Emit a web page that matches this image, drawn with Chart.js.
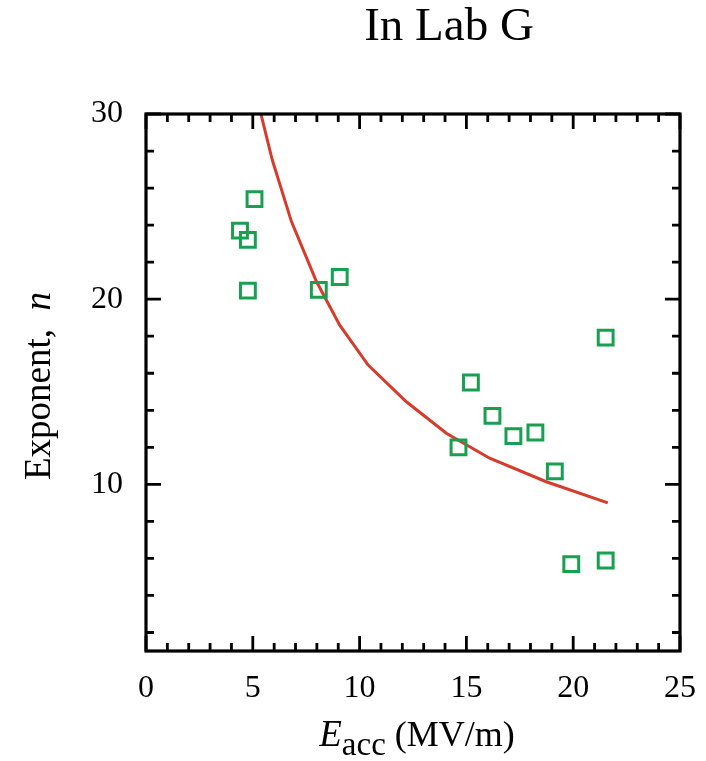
<!DOCTYPE html>
<html>
<head>
<meta charset="utf-8">
<script src="https://cdn.jsdelivr.net/npm/chart.js@4"></script>
<style>
  html, body { margin: 0; padding: 0; background: #fff; }
</style>
</head>
<body>
<canvas id="chart" width="706" height="761"></canvas>
<script>
// measured points (E_acc in MV/m, exponent n)
const measuredE = [4.40, 5.08, 4.77, 4.77, 8.09, 9.07, 14.63, 15.21, 16.22, 17.20, 18.23, 19.14, 19.91, 21.52, 21.52];
const measuredN = [23.7, 25.4, 23.2, 20.46, 20.5, 21.2, 12.0, 15.5, 13.7, 12.6, 12.8, 10.7, 5.69, 5.89, 17.92];

// fitted curve
const fitE = [5.38, 5.91, 6.81, 7.98, 9.07, 10.40, 12.19, 14.06, 16.09, 18.74, 21.62];
const fitN = [30.0, 27.53, 24.19, 20.95, 18.6, 16.44, 14.46, 12.76, 11.41, 10.14, 9.0];

const xTicks = [0, 5, 10, 15, 20, 25];
const yTicks = [10, 20, 30];
const xMinor = [1, 2, 3, 4, 6, 7, 8, 9, 11, 12, 13, 14, 16, 17, 18, 19, 21, 22, 23, 24];
const yMinor = [2, 4, 6, 8, 12, 14, 16, 18, 22, 24, 26, 28];

const serif = "'Liberation Serif', 'Times New Roman', serif";

// frame with inward ticks on all four sides, plus title and axis titles
const framePlugin = {
  id: "frame",
  afterDraw(chart) {
    const { ctx, chartArea: a, scales } = chart;
    const xs = scales.x, ys = scales.y;
    ctx.save();
    ctx.strokeStyle = "#000";
    ctx.lineWidth = 3.2;
    ctx.lineCap = "butt";
    ctx.strokeRect(a.left, a.top, a.right - a.left, a.bottom - a.top);

    const tick = (vals, len, horiz) => {
      ctx.beginPath();
      vals.forEach((v) => {
        if (horiz) {
          const px = xs.getPixelForValue(v);
          ctx.moveTo(px, a.bottom); ctx.lineTo(px, a.bottom - len);
          ctx.moveTo(px, a.top); ctx.lineTo(px, a.top + len);
        } else {
          const py = ys.getPixelForValue(v);
          ctx.moveTo(a.left, py); ctx.lineTo(a.left + len, py);
          ctx.moveTo(a.right, py); ctx.lineTo(a.right - len, py);
        }
      });
      ctx.stroke();
    };
    ctx.lineWidth = 2.8;
    tick(xTicks, 15, true);
    tick(xMinor, 8, true);
    tick(yTicks, 15, false);
    tick(yMinor, 8, false);

    ctx.fillStyle = "#000";
    // title
    ctx.font = "47px " + serif;
    ctx.textAlign = "center";
    ctx.textBaseline = "alphabetic";
    ctx.fillText("In Lab G", 449, 40);

    // y title
    ctx.save();
    ctx.translate(50, 386);
    ctx.rotate(-Math.PI / 2);
    ctx.textAlign = "left";
    ctx.font = "37px " + serif;
    const p1 = "Exponent,  ";
    const w1 = ctx.measureText(p1).width;
    ctx.font = "italic 37px " + serif;
    const w2 = ctx.measureText("n").width;
    const x0 = -(w1 + w2) / 2;
    ctx.font = "37px " + serif;
    ctx.fillText(p1, x0, 0);
    ctx.font = "italic 37px " + serif;
    ctx.fillText("n", x0 + w1, 0);
    ctx.restore();

    // x title
    ctx.textAlign = "left";
    ctx.font = "italic 37px " + serif;
    const wE = ctx.measureText("E").width;
    ctx.font = "33px " + serif;
    const wSub = ctx.measureText("acc").width;
    ctx.font = "36px " + serif;
    const wRest = ctx.measureText(" (MV/m)").width;
    const xs0 = 417 - (wE + wSub + wRest) / 2;
    const base = 746;
    ctx.font = "italic 37px " + serif;
    ctx.fillText("E", xs0, base);
    ctx.font = "33px " + serif;
    ctx.fillText("acc", xs0 + wE, base + 9);
    ctx.font = "36px " + serif;
    ctx.fillText(" (MV/m)", xs0 + wE + wSub, base);
    ctx.restore();
  }
};

const ctx = document.getElementById("chart").getContext("2d");

new Chart(ctx, {
  type: "scatter",
  data: {
    datasets: [
      {
        label: "fit",
        data: fitE.map((e, i) => ({ x: e, y: fitN[i] })),
        showLine: true,
        borderColor: "#d63b2b",
        borderWidth: 3,
        pointRadius: 0,
        tension: 0,
        order: 2,
      },
      {
        label: "measured",
        data: measuredE.map((e, i) => ({ x: e, y: measuredN[i] })),
        pointStyle: "rect",
        pointRadius: 10.5,
        borderWidth: 3,
        borderColor: "#17a04f",
        backgroundColor: "rgba(0,0,0,0)",
        order: 1,
      },
    ],
  },
  options: {
    responsive: false,
    animation: false,
    layout: { padding: { top: 114, right: 25, left: 0, bottom: 0 } },
    plugins: { legend: { display: false }, tooltip: { enabled: false } },
    scales: {
      x: {
        type: "linear",
        min: 0,
        max: 25,
        afterBuildTicks: (s) => { s.ticks = xTicks.map((v) => ({ value: v })); },
        ticks: { font: { family: serif, size: 32 }, color: "#000", padding: 10, maxRotation: 0 },
        grid: { display: false },
        border: { display: false },
        afterFit: (s) => { s.height = 110; },
      },
      y: {
        min: 1,
        max: 30,
        afterBuildTicks: (s) => { s.ticks = yTicks.map((v) => ({ value: v })); },
        ticks: { font: { family: serif, size: 32 }, color: "#000", padding: 15 },
        grid: { display: false },
        border: { display: false },
        afterFit: (s) => { s.width = 146; },
      },
    },
  },
  plugins: [framePlugin],
});
</script>
</body>
</html>
